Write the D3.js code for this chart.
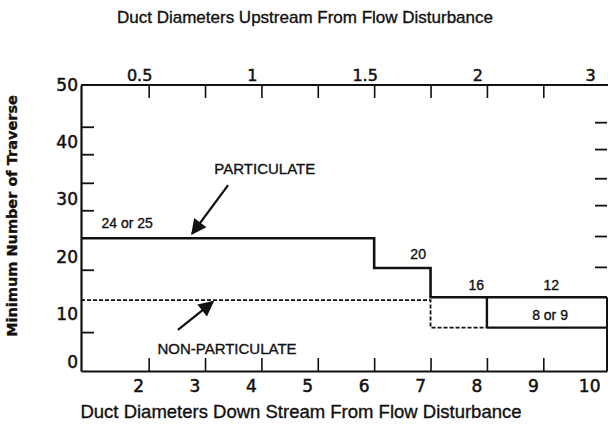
<!DOCTYPE html>
<html>
<head>
<meta charset="utf-8">
<script src="https://cdn.jsdelivr.net/npm/d3@7"></script>
<style>
  body { margin: 0; background: #fff; }
  svg { display: block; }
  text { fill: #111; stroke: #111; stroke-width: 0.35px; font-family: "Liberation Sans", Arial, sans-serif; }
  .tick-num { font-family: "DejaVu Sans", sans-serif; stroke-width: 0.5px; }
  .axis path, .axis line { stroke: #111; }
</style>
</head>
<body>
<div class="graphic"></div>
<script>
// downstream axis (bottom) and upstream labels (top)
const bottomTicks = [2, 3, 4, 5, 6, 7, 8, 9]
const bottomLabels = [2, 3, 4, 5, 6, 7, 8, 9, 10]
const topLabels = ['0.5', '1', '1.5', '2', '3']
const topLabelAt = [2, 4, 6, 8, 10]
const yLabels = [0, 10, 20, 30, 40, 50]
const leftTicks = [42.7, 37.9, 32.9, 28.1, 17.7, 6.8]
const rightTicks = [43.5, 38.8, 33.7, 29.0, 23.6, 18.2]

// step lines
const partBreaks = [0.8, 6, 7, 10.13]
const partValues = [23.2, 18.0, 12.9]
const nonPartBreaks = [0.8, 7, 8, 10.13]
const nonPartValues = [12.4, 7.6, 7.6]

// annotations (data units)
const stepLabels = [
  { text: '24 or 25', x: 1.62, v: 25.0 },
  { text: '20', x: 6.78, v: 19.6 },
  { text: '16', x: 7.81, v: 14.2 },
  { text: '12', x: 9.14, v: 14.2 },
  { text: '8 or 9', x: 9.12, v: 8.9 }
]
const seriesLabels = [
  { text: 'PARTICULATE', x: 4.06, v: 34.4 },
  { text: 'NON-PARTICULATE', x: 3.39, v: 3.0 }
]
const arrows = [
  { x0: 3.41, v0: 32.5, x1: 2.77, v1: 24.0 },
  { x0: 2.52, v0: 7.2, x1: 3.14, v1: 12.1 }
]

const W = 608
const H = 429
const plot = { left: 81, right: 607, top: 85, bottom: 371 }

const x = d3.scaleLinear().domain([0.8, 10.13]).range([plot.left, plot.right])
const y = d3.scaleLinear().domain([0, 50]).range([plot.bottom, plot.top])

const svg = d3.select('.graphic').append('svg')
  .attr('width', W)
  .attr('height', H)

svg.append('defs').append('marker')
  .attr('id', 'head')
  .attr('viewBox', '0 0 10 10')
  .attr('refX', 9).attr('refY', 5)
  .attr('markerWidth', 8).attr('markerHeight', 7)
  .attr('markerUnits', 'strokeWidth')
  .attr('orient', 'auto')
  .append('path')
    .attr('d', 'M0,0L10,5L0,10z')
    .attr('fill', '#111')

// titles
svg.append('text')
  .attr('x', 305).attr('y', 23)
  .attr('text-anchor', 'middle')
  .style('font-size', '17px')
  .text('Duct Diameters Upstream From Flow Disturbance')

svg.append('text')
  .attr('x', 301).attr('y', 418)
  .attr('text-anchor', 'middle')
  .style('font-size', '18.5px')
  .text('Duct Diameters Down Stream From Flow Disturbance')

svg.append('text')
  .attr('transform', 'translate(17,216) rotate(-90)')
  .attr('text-anchor', 'middle')
  .style('font-size', '14.5px')
  .style('font-weight', 'bold')
  .style('font-family', '"DejaVu Sans", sans-serif')
  .text('Minimum Number of Traverse')

// axes
svg.append('g')
  .attr('class', 'axis')
  .attr('transform', `translate(0,${plot.bottom})`)
  .call(d3.axisBottom(x).tickValues(bottomTicks).tickSize(-13).tickSizeOuter(0).tickFormat(''))
  .call(g => g.select('.domain').attr('stroke-width', 2.2))
  .call(g => g.selectAll('.tick line').attr('stroke-width', 1.6))

svg.append('g')
  .attr('class', 'axis')
  .attr('transform', `translate(0,${plot.top})`)
  .call(d3.axisTop(x).tickValues(bottomTicks).tickSize(-13).tickSizeOuter(0).tickFormat(''))
  .call(g => g.select('.domain').attr('d', `M${plot.left},0H${W}`).attr('stroke-width', 2.2))
  .call(g => g.selectAll('.tick line').attr('stroke-width', 1.6))

svg.append('g')
  .attr('class', 'axis')
  .attr('transform', `translate(${plot.left},0)`)
  .call(d3.axisRight(y).tickValues(leftTicks).tickSize(13).tickSizeOuter(0).tickFormat(''))
  .call(g => g.select('.domain').attr('stroke-width', 2.2))
  .call(g => g.selectAll('.tick line').attr('stroke-width', 1.8))

svg.append('g')
  .attr('class', 'axis')
  .attr('transform', `translate(${plot.right},0)`)
  .call(d3.axisLeft(y).tickValues(rightTicks).tickSize(12).tickFormat(''))
  .call(g => g.select('.domain').remove())
  .call(g => g.selectAll('.tick line').attr('stroke-width', 1.8))

// tick labels
svg.append('g').selectAll('text')
  .data(bottomLabels)
  .join('text')
    .attr('class', 'tick-num')
    .attr('x', d => x(d) - 10)
    .attr('y', plot.bottom + 21)
    .attr('text-anchor', 'middle')
    .style('font-size', '17px')
    .text(d => d)

svg.append('g').selectAll('text')
  .data(topLabels)
  .join('text')
    .attr('class', 'tick-num')
    .attr('x', (d, i) => x(topLabelAt[i]) - 9)
    .attr('y', plot.top - 4)
    .attr('text-anchor', 'middle')
    .style('font-size', '16px')
    .text(d => d)

svg.append('g').selectAll('text')
  .data(yLabels)
  .join('text')
    .attr('class', 'tick-num')
    .attr('x', plot.left - 3)
    .attr('y', d => Math.min(y(d) + 6, plot.bottom - 3))
    .attr('text-anchor', 'end')
    .style('font-size', '17px')
    .text(d => d)

// step lines
const stepLine = d3.line()
  .x(d => x(d[0]))
  .y(d => y(d[1]))
  .curve(d3.curveStepAfter)

const partPts = partBreaks.map((b, i) => [b, partValues[Math.min(i, partValues.length - 1)]])
svg.append('path')
  .attr('d', stepLine(partPts))
  .attr('fill', 'none')
  .attr('stroke', '#111')
  .attr('stroke-width', 2.6)

// right border below the particulate level
svg.append('line')
  .attr('x1', x(partBreaks[3])).attr('x2', x(partBreaks[3]))
  .attr('y1', y(partValues[2])).attr('y2', y(0))
  .attr('stroke', '#111')
  .attr('stroke-width', 2)

// non-particulate: dashed part up to x=8, solid after
const nonPartDashed = nonPartBreaks.slice(0, 3).map((b, i) => [b, nonPartValues[Math.min(i, 1)]])
svg.append('path')
  .attr('d', stepLine(nonPartDashed))
  .attr('fill', 'none')
  .attr('stroke', '#111')
  .attr('stroke-width', 1.8)
  .attr('stroke-dasharray', '4,2')

svg.append('line')
  .attr('x1', x(nonPartBreaks[2])).attr('x2', x(nonPartBreaks[3]))
  .attr('y1', y(nonPartValues[2])).attr('y2', y(nonPartValues[2]))
  .attr('stroke', '#111')
  .attr('stroke-width', 2.2)

svg.append('line')
  .attr('x1', x(nonPartBreaks[2])).attr('x2', x(nonPartBreaks[2]))
  .attr('y1', y(partValues[2])).attr('y2', y(nonPartValues[2]))
  .attr('stroke', '#111')
  .attr('stroke-width', 2.4)

// labels
svg.append('g').selectAll('text')
  .data(stepLabels)
  .join('text')
    .attr('x', d => x(d.x))
    .attr('y', d => y(d.v))
    .attr('text-anchor', 'middle')
    .style('font-size', '14px')
    .text(d => d.text)

svg.append('g').selectAll('text')
  .data(seriesLabels)
  .join('text')
    .attr('x', d => x(d.x))
    .attr('y', d => y(d.v))
    .attr('text-anchor', 'middle')
    .style('font-size', '15px')
    .text(d => d.text)

svg.append('g').selectAll('line')
  .data(arrows)
  .join('line')
    .attr('x1', d => x(d.x0)).attr('y1', d => y(d.v0))
    .attr('x2', d => x(d.x1)).attr('y2', d => y(d.v1))
    .attr('stroke', '#111')
    .attr('stroke-width', 2.2)
    .attr('marker-end', 'url(#head)')
</script>
</body>
</html>
